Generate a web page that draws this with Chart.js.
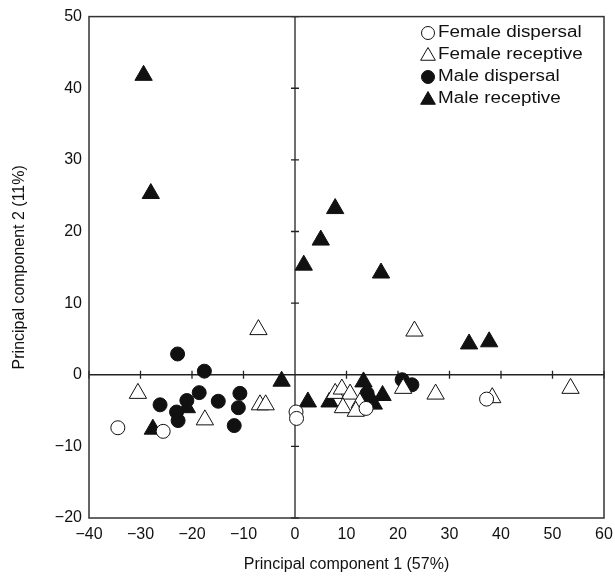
<!DOCTYPE html>
<html>
<head>
<meta charset="utf-8">
<script src="https://cdn.jsdelivr.net/npm/chart.js@4.4.1/dist/chart.umd.min.js"></script>
<style>
  html, body { margin: 0; padding: 0; background: #fff; }
  #wrap { width: 615px; height: 579px; }
</style>
</head>
<body>
<div id="wrap"><canvas id="pca" width="615" height="579"></canvas></div>
<script>
// PCA scores
var femaleDispersalX = [-34.4, -25.6, 0.2, 0.3, 13.8, 37.2];
var femaleDispersalY = [-7.4, -7.9, -5.2, -6.1, -4.7, -3.4];

var femaleReceptiveX = [-7.1, 23.2, -30.5, -17.5, -6.8, -5.7, 27.3, 38.3, 53.5, 21.0, 7.8, 9.1, 10.7, 9.3, 12.6, 11.8];
var femaleReceptiveY = [6.3, 6.1, -2.6, -6.3, -4.2, -4.2, -2.7, -3.2, -1.9, -1.9, -2.6, -2.0, -2.7, -4.6, -3.9, -5.1];

var maleDispersalX = [-22.8, -17.6, -26.2, -18.6, -21.0, -23.0, -22.7, -14.9, -10.7, -11.0, -11.8, 20.8, 22.7, 14.0, 14.6];
var maleDispersalY = [2.9, 0.5, -4.2, -2.5, -3.6, -5.2, -6.4, -3.7, -2.6, -4.6, -7.1, -0.7, -1.4, -2.6, -3.6];

var maleReceptiveX = [-29.4, -28.0, 1.7, 5.0, 7.8, 16.7, 33.8, 37.7, -2.6, -27.6, -21.0, 2.5, 6.7, 13.3, 14.2, 15.3, 17.0];
var maleReceptiveY = [41.8, 25.3, 15.3, 18.8, 23.2, 14.2, 4.3, 4.6, -0.9, -7.6, -4.6, -3.8, -3.8, -1.0, -3.4, -4.1, -2.9];

var seriesLabels = ['Female dispersal', 'Female receptive', 'Male dispersal', 'Male receptive'];
var xTicks = [-40, -30, -20, -10, 0, 10, 20, 30, 40, 50, 60];
var yTicks = [-20, -10, 0, 10, 20, 30, 40, 50];

var FONT = '"Liberation Sans", Arial, Helvetica, sans-serif';

function toPoints(xs, ys) {
    return xs.map(function (x, i) { return { x: x, y: ys[i] }; });
}

function minusSign(v) {
    return v < 0 ? '\u2212' + Math.abs(v) : '' + v;
}

var styles = [
    { pointStyle: 'circle', radius: 7, fill: '#fff' },
    { pointStyle: 'triangle', radius: 10, fill: '#fff' },
    { pointStyle: 'circle', radius: 7, fill: '#111' },
    { pointStyle: 'triangle', radius: 10, fill: '#111' }
];
var allX = [femaleDispersalX, femaleReceptiveX, maleDispersalX, maleReceptiveX];
var allY = [femaleDispersalY, femaleReceptiveY, maleDispersalY, maleReceptiveY];

var datasets = seriesLabels.map(function (lab, i) {
    return {
        label: lab,
        data: toPoints(allX[i], allY[i]),
        pointStyle: styles[i].pointStyle,
        pointRadius: styles[i].radius,
        pointHoverRadius: styles[i].radius,
        backgroundColor: styles[i].fill,
        borderColor: '#111',
        borderWidth: 1
    };
});

// frame, zero lines with tick marks, and the in-plot legend
var decorations = {
    id: 'decorations',
    beforeDatasetsDraw: function (chart) {
        var ctx = chart.ctx, a = chart.chartArea;
        var xs = chart.scales.x, ys = chart.scales.y;
        var x0 = xs.getPixelForValue(0), y0 = ys.getPixelForValue(0);
        ctx.save();
        ctx.strokeStyle = '#222';
        ctx.lineWidth = 1.3;
        ctx.beginPath();
        ctx.moveTo(a.left, y0); ctx.lineTo(a.right, y0);
        ctx.moveTo(x0, a.top); ctx.lineTo(x0, a.bottom);
        xTicks.forEach(function (t) {
            var px = xs.getPixelForValue(t);
            ctx.moveTo(px, y0 - 4); ctx.lineTo(px, y0 + 4);
        });
        yTicks.forEach(function (t) {
            var py = ys.getPixelForValue(t);
            ctx.moveTo(x0 - 4, py); ctx.lineTo(x0 + 4, py);
        });
        ctx.stroke();
        ctx.lineWidth = 1.5;
        ctx.strokeStyle = '#333';
        ctx.strokeRect(a.left, a.top, a.right - a.left, a.bottom - a.top);
        ctx.restore();
    },
    afterDraw: function (chart) {
        var ctx = chart.ctx;
        var lx = 428, ly = 33, step = 22;
        ctx.save();
        ctx.textBaseline = 'middle';
        seriesLabels.forEach(function (lab, i) {
            var y = ly + i * step;
            var isCircle = styles[i].pointStyle === 'circle';
            ctx.fillStyle = styles[i].fill;
            ctx.strokeStyle = '#111';
            ctx.lineWidth = 1;
            Chart.helpers.drawPoint(ctx, {
                pointStyle: styles[i].pointStyle,
                radius: isCircle ? 6.5 : 8.5,
                rotation: 0,
                borderWidth: 1
            }, lx, isCircle ? y : y + 1);
            // legend lettering in the figure is set wider than the axis text
            ctx.save();
            ctx.translate(lx + 10, y);
            ctx.scale(1.18, 1);
            ctx.font = '16px ' + FONT;
            ctx.fillStyle = '#111';
            ctx.fillText(lab, 0, 0);
            ctx.restore();
        });
        ctx.restore();
    }
};

var chart = new Chart(document.getElementById('pca'), {
    type: 'scatter',
    data: { datasets: datasets },
    options: {
        responsive: false,
        animation: false,
        events: [],
        layout: { padding: { top: 15, right: 11, left: 0, bottom: 0 } },
        plugins: { legend: { display: false }, tooltip: { enabled: false } },
        scales: {
            x: {
                type: 'linear',
                min: -40, max: 60,
                afterBuildTicks: function (s) { s.ticks = xTicks.map(function (v) { return { value: v }; }); },
                afterFit: function (s) { s.height = 61; s.paddingRight = 0; s.paddingLeft = 0; },
                grid: { display: false, drawTicks: false },
                border: { display: false },
                ticks: {
                    padding: 7,
                    color: '#111',
                    font: { family: FONT, size: 16 },
                    callback: minusSign
                },
                title: {
                    display: true,
                    text: 'Principal component 1 (57%)',
                    color: '#111',
                    font: { family: FONT, size: 16 },
                    padding: { top: 0, bottom: 5 }
                }
            },
            y: {
                type: 'linear',
                min: -20, max: 50,
                afterBuildTicks: function (s) { s.ticks = yTicks.map(function (v) { return { value: v }; }); },
                afterFit: function (s) { s.width = 89; },
                grid: { display: false, drawTicks: false },
                border: { display: false },
                ticks: {
                    padding: 7,
                    color: '#111',
                    font: { family: FONT, size: 16 },
                    callback: minusSign
                },
                title: {
                    display: true,
                    text: 'Principal component 2 (11%)',
                    color: '#111',
                    font: { family: FONT, size: 16 },
                    padding: { top: 10, bottom: 0 }
                }
            }
        }
    },
    plugins: [decorations]
});
</script>
</body>
</html>
